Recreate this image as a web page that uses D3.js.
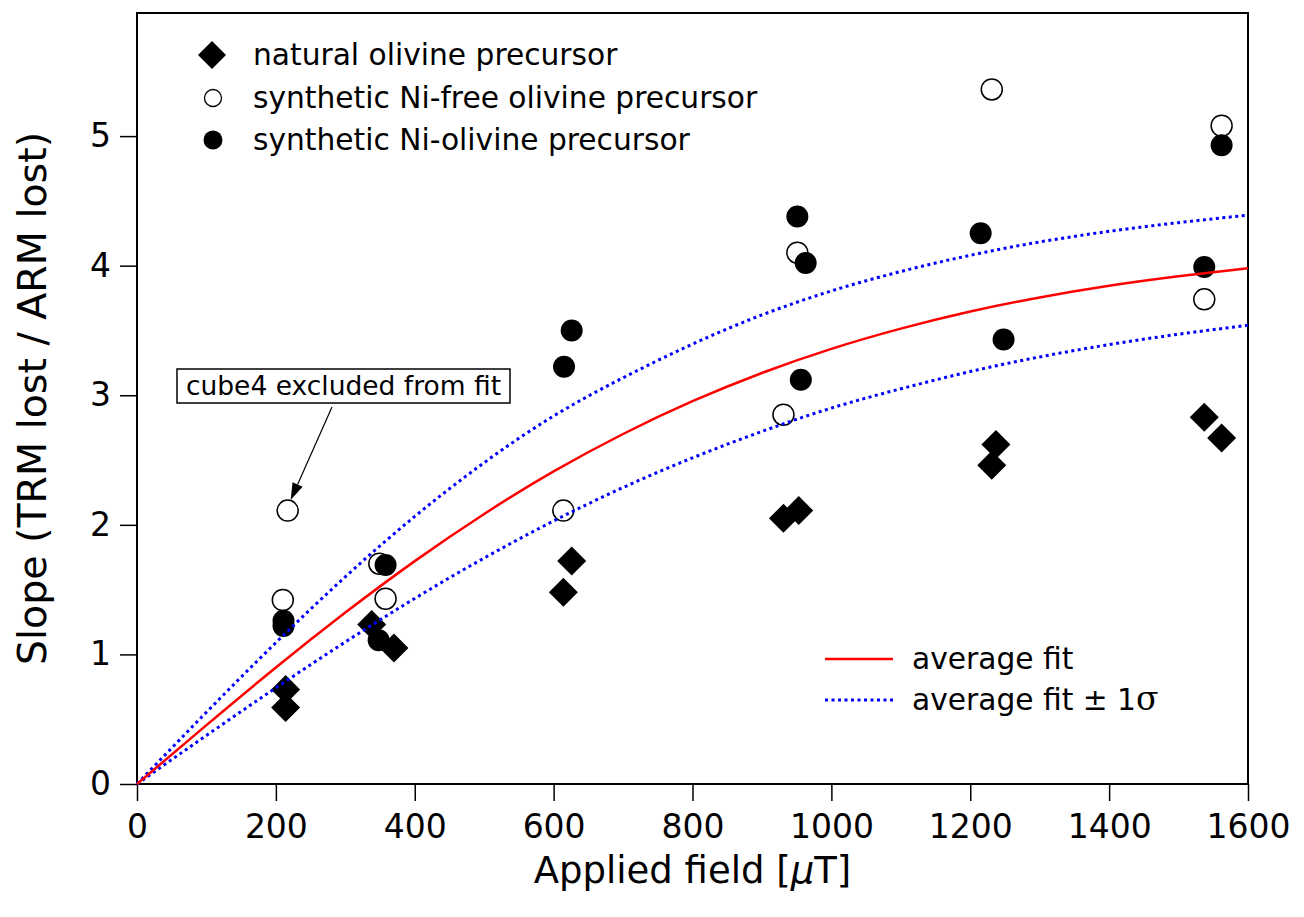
<!DOCTYPE html>
<html lang="en">
<head>
<meta charset="utf-8" />
<title>Slope vs applied field</title>
<script src="https://d3js.org/d3.v7.min.js"></script>
<style>
  body { margin: 0; background: #fff; }
  text { font-family: "DejaVu Sans", sans-serif; fill: #000; }
</style>
</head>
<body>
<div id="chart"></div>
<script>
// ---- data ----
var fieldTicks = [0, 200, 400, 600, 800, 1000, 1200, 1400, 1600];
var slopeTicks = [0, 1, 2, 3, 4, 5];

// natural olivine precursor (diamonds)
var naturalField = [214, 214, 338, 370, 614, 626, 931, 953, 1231, 1237, 1537, 1562];
var naturalSlope = [0.73, 0.59, 1.23, 1.05, 1.48, 1.72, 2.05, 2.11, 2.46, 2.62, 2.83, 2.67];

// synthetic Ni-free olivine precursor (open circles)
var niFreeField = [210, 217, 349, 358, 614, 931, 951, 1231, 1537, 1562];
var niFreeSlope = [1.42, 2.11, 1.70, 1.43, 2.11, 2.85, 4.10, 5.36, 3.74, 5.08];

// synthetic Ni-olivine precursor (filled circles)
var niField = [211, 211, 348, 358, 615, 626, 951, 963, 956, 1215, 1248, 1537, 1562];
var niSlope = [1.26, 1.22, 1.11, 1.69, 3.22, 3.50, 4.38, 4.02, 3.12, 4.25, 3.43, 3.99, 4.93];

// fit curves, sampled every 100 uT
var fitField = [0, 100, 200, 300, 400, 500, 600, 700, 800, 900, 1000, 1100, 1200, 1300, 1400, 1500, 1600];
var fitAvg   = [0, 0.454, 0.899, 1.323, 1.72, 2.084, 2.412, 2.701, 2.954, 3.172, 3.358, 3.514, 3.646, 3.755, 3.845, 3.918, 3.98];
var fitUpper = [0, 0.554, 1.091, 1.599, 2.065, 2.48, 2.84, 3.135, 3.395, 3.62, 3.805, 3.955, 4.08, 4.183, 4.265, 4.332, 4.39];
var fitLower = [0, 0.375, 0.742, 1.096, 1.432, 1.744, 2.03, 2.288, 2.517, 2.721, 2.901, 3.05, 3.183, 3.296, 3.391, 3.471, 3.54];

var W = 1304, H = 917;
var margin = { top: 13, right: 56, bottom: 133, left: 137 };

var svg = d3.select("#chart").append("svg")
    .attr("width", W)
    .attr("height", H)
    .style("background", "#fff");

var x = d3.scaleLinear().domain([0, 1600]).range([margin.left, W - margin.right]);
var y = d3.scaleLinear().domain([0, 5.95]).range([H - margin.bottom, margin.top]);

// axes
var xAxis = svg.append("g")
    .attr("transform", "translate(0," + y(0) + ")")
    .call(d3.axisBottom(x).tickValues(fieldTicks).tickSize(17).tickPadding(14).tickFormat(d3.format("d")));
xAxis.selectAll("text").style("font-size", "33px");

var yAxis = svg.append("g")
    .attr("transform", "translate(" + x(0) + ",0)")
    .call(d3.axisLeft(y).tickValues(slopeTicks).tickSize(17).tickPadding(9).tickFormat(d3.format("d")));
yAxis.selectAll("text").style("font-size", "33px");

svg.selectAll(".domain").remove();
svg.selectAll(".tick line").attr("stroke", "#000").attr("stroke-width", 1.5);

// frame
svg.append("rect")
    .attr("x", x(0)).attr("y", y(5.95))
    .attr("width", x(1600) - x(0)).attr("height", y(0) - y(5.95))
    .attr("fill", "none").attr("stroke", "#000").attr("stroke-width", 2);

// axis titles
var xTitle = svg.append("text")
    .attr("x", (x(0) + x(1600)) / 2)
    .attr("y", 883)
    .attr("text-anchor", "middle")
    .style("font-size", "37px");
xTitle.append("tspan").text("Applied field [");
xTitle.append("tspan").style("font-style", "italic").text("\u03bc");
xTitle.append("tspan").text("T]");

svg.append("text")
    .attr("transform", "translate(46," + (y(0) + y(5.95)) / 2 + ") rotate(-90)")
    .attr("text-anchor", "middle")
    .style("font-size", "39.5px")
    .text("Slope (TRM lost / ARM lost)");

// markers
function diamond(g, cx, cy, r) {
    g.append("path")
        .attr("d", "M" + cx + "," + (cy - r) + "L" + (cx + r) + "," + cy + "L" + cx + "," + (cy + r) + "L" + (cx - r) + "," + cy + "Z")
        .attr("fill", "#000");
}

var pts = svg.append("g");
naturalField.forEach(function (f, i) {
    diamond(pts, x(f), y(naturalSlope[i]), 14.5);
});
niFreeField.forEach(function (f, i) {
    pts.append("circle")
        .attr("cx", x(f)).attr("cy", y(niFreeSlope[i])).attr("r", 10.5)
        .attr("fill", "none").attr("stroke", "#000").attr("stroke-width", 1.5);
});
niField.forEach(function (f, i) {
    pts.append("circle")
        .attr("cx", x(f)).attr("cy", y(niSlope[i])).attr("r", 11)
        .attr("fill", "#000");
});

// fit lines
function fitLine(vals) {
    return d3.line()
        .x(function (d, i) { return x(fitField[i]); })
        .y(function (d) { return y(d); })
        .curve(d3.curveNatural)(vals);
}
[fitUpper, fitLower].forEach(function (vals) {
    svg.append("path")
        .attr("d", fitLine(vals))
        .attr("fill", "none").attr("stroke", "#0000ff")
        .attr("stroke-width", 3).attr("stroke-dasharray", "3,3.5");
});
svg.append("path")
    .attr("d", fitLine(fitAvg))
    .attr("fill", "none").attr("stroke", "#ff0000").attr("stroke-width", 2.5);

// top-left legend
var leg = svg.append("g");
var legRows = [
    { label: "natural olivine precursor", kind: "diamond", ly: 55 },
    { label: "synthetic Ni-free olivine precursor", kind: "open", ly: 98 },
    { label: "synthetic Ni-olivine precursor", kind: "filled", ly: 140 }
];
legRows.forEach(function (r) {
    if (r.kind === "diamond") diamond(leg, 212, r.ly, 14);
    else leg.append("circle").attr("cx", 213).attr("cy", r.ly).attr("r", r.kind === "open" ? 8.5 : 9.5)
        .attr("fill", r.kind === "open" ? "none" : "#000")
        .attr("stroke", "#000").attr("stroke-width", r.kind === "open" ? 1.3 : 0);
    leg.append("text").attr("x", 253).attr("y", r.ly).attr("dy", "0.35em")
        .style("font-size", "29.7px").text(r.label);
});

// fit legend
var leg2 = svg.append("g");
leg2.append("line").attr("x1", 825).attr("x2", 893).attr("y1", 659).attr("y2", 659)
    .attr("stroke", "#ff0000").attr("stroke-width", 2.5);
leg2.append("text").attr("x", 912).attr("y", 659).attr("dy", "0.35em")
    .style("font-size", "29.7px").text("average fit");
leg2.append("line").attr("x1", 825).attr("x2", 893).attr("y1", 700).attr("y2", 700)
    .attr("stroke", "#0000ff").attr("stroke-width", 3).attr("stroke-dasharray", "3,3.5");
var t2 = leg2.append("text").attr("x", 912).attr("y", 700).attr("dy", "0.35em")
    .style("font-size", "29.7px");
t2.append("tspan").text("average fit \u00b1 1");
t2.append("tspan").style("font-family", "'DejaVu Serif', serif").style("font-size", "33px").text("\u03c3");

// annotation
var note = svg.append("g");
note.append("rect").attr("x", 177).attr("y", 369).attr("width", 333).attr("height", 34)
    .attr("fill", "#fff").attr("stroke", "#000").attr("stroke-width", 1.5);
note.append("text").attr("x", 343.5).attr("y", 386).attr("dy", "0.35em")
    .attr("text-anchor", "middle").style("font-size", "26.5px").text("cube4 excluded from fit");

var sx = 332, sy = 407;
var tx = x(niFreeField[1]) + 3, ty = y(niFreeSlope[1]) - 10.5;
var dx = tx - sx, dy = ty - sy, len = Math.sqrt(dx * dx + dy * dy);
var ux = dx / len, uy = dy / len;
var bx = tx - ux * 17, by = ty - uy * 17;
note.append("line").attr("x1", sx).attr("y1", sy).attr("x2", bx).attr("y2", by)
    .attr("stroke", "#000").attr("stroke-width", 1.2);
note.append("path")
    .attr("d", "M" + tx + "," + ty + "L" + (bx - uy * 5.5) + "," + (by + ux * 5.5) + "L" + (bx + uy * 5.5) + "," + (by - ux * 5.5) + "Z")
    .attr("fill", "#000");
</script>
</body>
</html>
